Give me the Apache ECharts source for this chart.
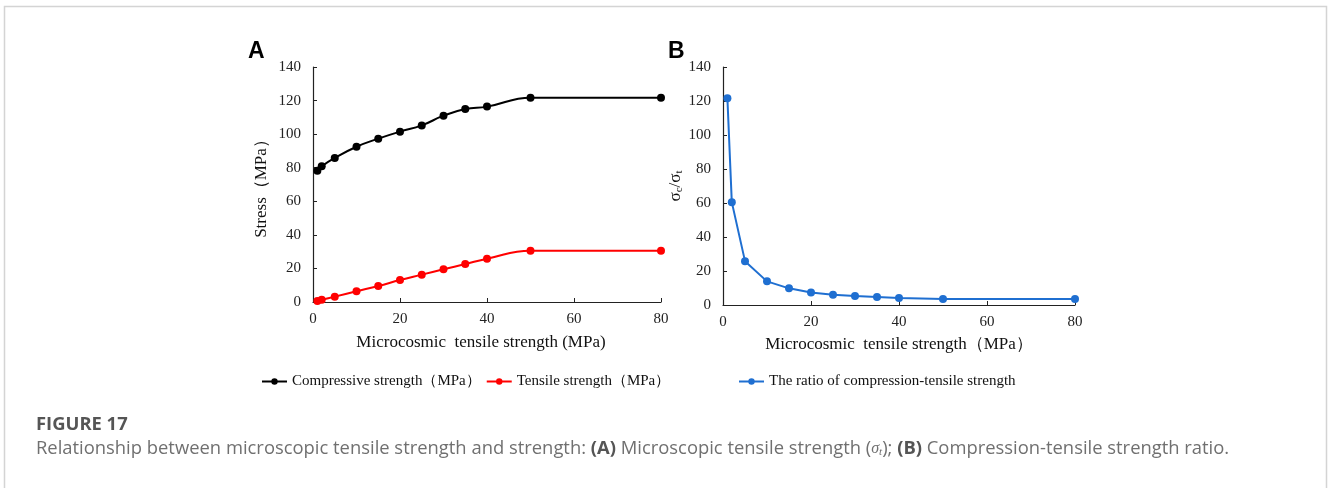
<!DOCTYPE html>
<html>
<head>
<meta charset="utf-8">
<script src="https://cdn.jsdelivr.net/npm/echarts@6/dist/echarts.min.js"></script>
<style>
  html, body { margin: 0; padding: 0; background: #fff; }
  #chart { width: 1328px; height: 488px; }
</style>
</head>
<body>
<div id="chart"></div>
<script>
// Microcosmic tensile strength (MPa) used in each simulation run
const tensileInput = [1, 2, 5, 10, 15, 20, 25, 30, 35, 40, 50, 80];
// Panel A: macroscopic strengths (MPa)
const compressiveStrength = [78.2, 80.8, 85.8, 92.5, 97.3, 101.5, 105.2, 111.0, 115.0, 116.4, 121.7, 121.7];
const tensileStrength = [0.6, 1.3, 3.2, 6.4, 9.5, 13.1, 16.3, 19.5, 22.6, 25.8, 30.6, 30.6];
// Panel B: compression-tensile strength ratio
const strengthRatio = [121.6, 60.5, 25.8, 13.9, 9.8, 7.4, 6.1, 5.3, 4.7, 4.1, 3.5, 3.5];
// Axis ticks
const xTicks = [0, 20, 40, 60, 80];
const yTicks = [0, 20, 40, 60, 80, 100, 120, 140];

const serif = '"Liberation Serif", "Times New Roman", serif';
const sans = '"Open Sans", "Noto Sans", sans-serif';
const axisColor = '#222';

function pairs(xs, ys) { return xs.map((x, i) => [x, ys[i]]); }

function xAxisCfg(gridIndex, name, nameGap, namePad) {
  return {
    type: 'value', gridIndex,
    min: xTicks[0], max: xTicks[xTicks.length - 1], interval: xTicks[1] - xTicks[0],
    name, nameLocation: 'middle', nameGap,
    nameTextStyle: { fontFamily: serif, fontSize: 17, color: '#111', padding: namePad },
    axisLine: { lineStyle: { color: axisColor, width: 1.2 } },
    axisTick: { inside: true, length: 4, lineStyle: { color: axisColor } },
    axisLabel: { fontFamily: serif, fontSize: 15, color: '#222', margin: 10 },
    splitLine: { show: false }
  };
}
function yAxisCfg(gridIndex, name, nameGap, extraName) {
  return {
    type: 'value', gridIndex,
    min: yTicks[0], max: yTicks[yTicks.length - 1], interval: yTicks[1] - yTicks[0],
    name, nameLocation: 'middle', nameGap, nameRotate: 90,
    nameTextStyle: Object.assign({ fontFamily: serif, fontSize: 17, color: '#111' }, extraName || {}),
    axisLine: { show: true, lineStyle: { color: axisColor, width: 1.2 } },
    axisTick: { show: true, inside: true, length: 4, lineStyle: { color: axisColor } },
    axisLabel: { fontFamily: serif, fontSize: 15, color: '#222', margin: 12 },
    splitLine: { show: false }
  };
}

const chart = echarts.init(document.getElementById('chart'), null, { renderer: 'canvas' });

chart.setOption({
  animation: false,
  backgroundColor: '#fff',
  grid: [
    { left: 313, top: 67, width: 348, height: 235 },
    { left: 723, top: 67, width: 352, height: 238 }
  ],
  xAxis: [
    xAxisCfg(0, 'Microcosmic  tensile strength (MPa)', 32, [0, 12, 0, 0]),
    xAxisCfg(1, 'Microcosmic  tensile strength（MPa）', 31, 0)
  ],
  yAxis: [
    yAxisCfg(0, 'Stress（MPa）', 43),
    yAxisCfg(1, '{s|σ}{sub|c}{s|/σ}{sub|t}', 37, {
      rich: {
        s: { fontFamily: serif, fontSize: 17, color: '#111', lineHeight: 19, verticalAlign: 'middle' },
        sub: { fontFamily: serif, fontSize: 11, color: '#111', lineHeight: 10, verticalAlign: 'bottom' }
      }
    })
  ],
  legend: [
    {
      left: 261, top: 374, padding: 0, itemGap: 5, itemWidth: 25, itemHeight: 8,
      textStyle: { fontFamily: serif, fontSize: 15, color: '#111' },
      data: ['Compressive strength（MPa）', 'Tensile strength（MPa）']
    },
    {
      left: 738, top: 374, padding: 0, itemWidth: 25, itemHeight: 8,
      textStyle: { fontFamily: serif, fontSize: 15, color: '#111' },
      data: ['The ratio of compression-tensile strength']
    }
  ],
  series: [
    {
      name: 'Compressive strength（MPa）', type: 'line', xAxisIndex: 0, yAxisIndex: 0,
      data: pairs(tensileInput, compressiveStrength), smooth: 0.45,
      symbol: 'circle', symbolSize: 8,
      lineStyle: { color: '#000', width: 2 }, itemStyle: { color: '#000' }
    },
    {
      name: 'Tensile strength（MPa）', type: 'line', xAxisIndex: 0, yAxisIndex: 0,
      data: pairs(tensileInput, tensileStrength), smooth: 0.45,
      symbol: 'circle', symbolSize: 8,
      lineStyle: { color: '#ff0000', width: 2 }, itemStyle: { color: '#ff0000' }
    },
    {
      name: 'The ratio of compression-tensile strength', type: 'line', xAxisIndex: 1, yAxisIndex: 1,
      data: pairs(tensileInput, strengthRatio),
      symbol: 'circle', symbolSize: 8,
      lineStyle: { color: '#1f6fd1', width: 2 }, itemStyle: { color: '#1f6fd1' }
    }
  ],
  graphic: [
    {
      type: 'rect', silent: true,
      shape: { x: 4.5, y: 6.5, width: 1322, height: 520 },
      style: { fill: null, stroke: '#d4d4d4', lineWidth: 1.5 }
    },
    {
      type: 'text', left: 248, top: 40,
      style: { text: 'A', font: 'bold 23px "Liberation Sans", Arial, sans-serif', fill: '#000' }
    },
    {
      type: 'text', left: 668, top: 40,
      style: { text: 'B', font: 'bold 23px "Liberation Sans", Arial, sans-serif', fill: '#000' }
    },
    {
      type: 'text', left: 36, top: 416,
      style: { text: 'FIGURE 17', font: 'bold 18.4px ' + sans, fill: '#555' }
    },
    {
      type: 'text', left: 36, top: 440,
      style: {
        text: 'Relationship between microscopic tensile strength and strength: {b|(A)} Microscopic tensile strength ({i|σ}{it|t}); {b|(B)} Compression-tensile strength ratio.',
        font: '18.4px ' + sans, fill: '#707070',
        rich: {
          b: { fontFamily: sans, fontSize: 18.4, fontWeight: 'bold', fill: '#555' },
          i: { fontFamily: serif, fontSize: 16, fontStyle: 'italic', fill: '#707070' },
          it: { fontFamily: serif, fontSize: 11, fontStyle: 'italic', fill: '#707070', verticalAlign: 'bottom', lineHeight: 8 }
        }
      }
    }
  ]
});
</script>
</body>
</html>
